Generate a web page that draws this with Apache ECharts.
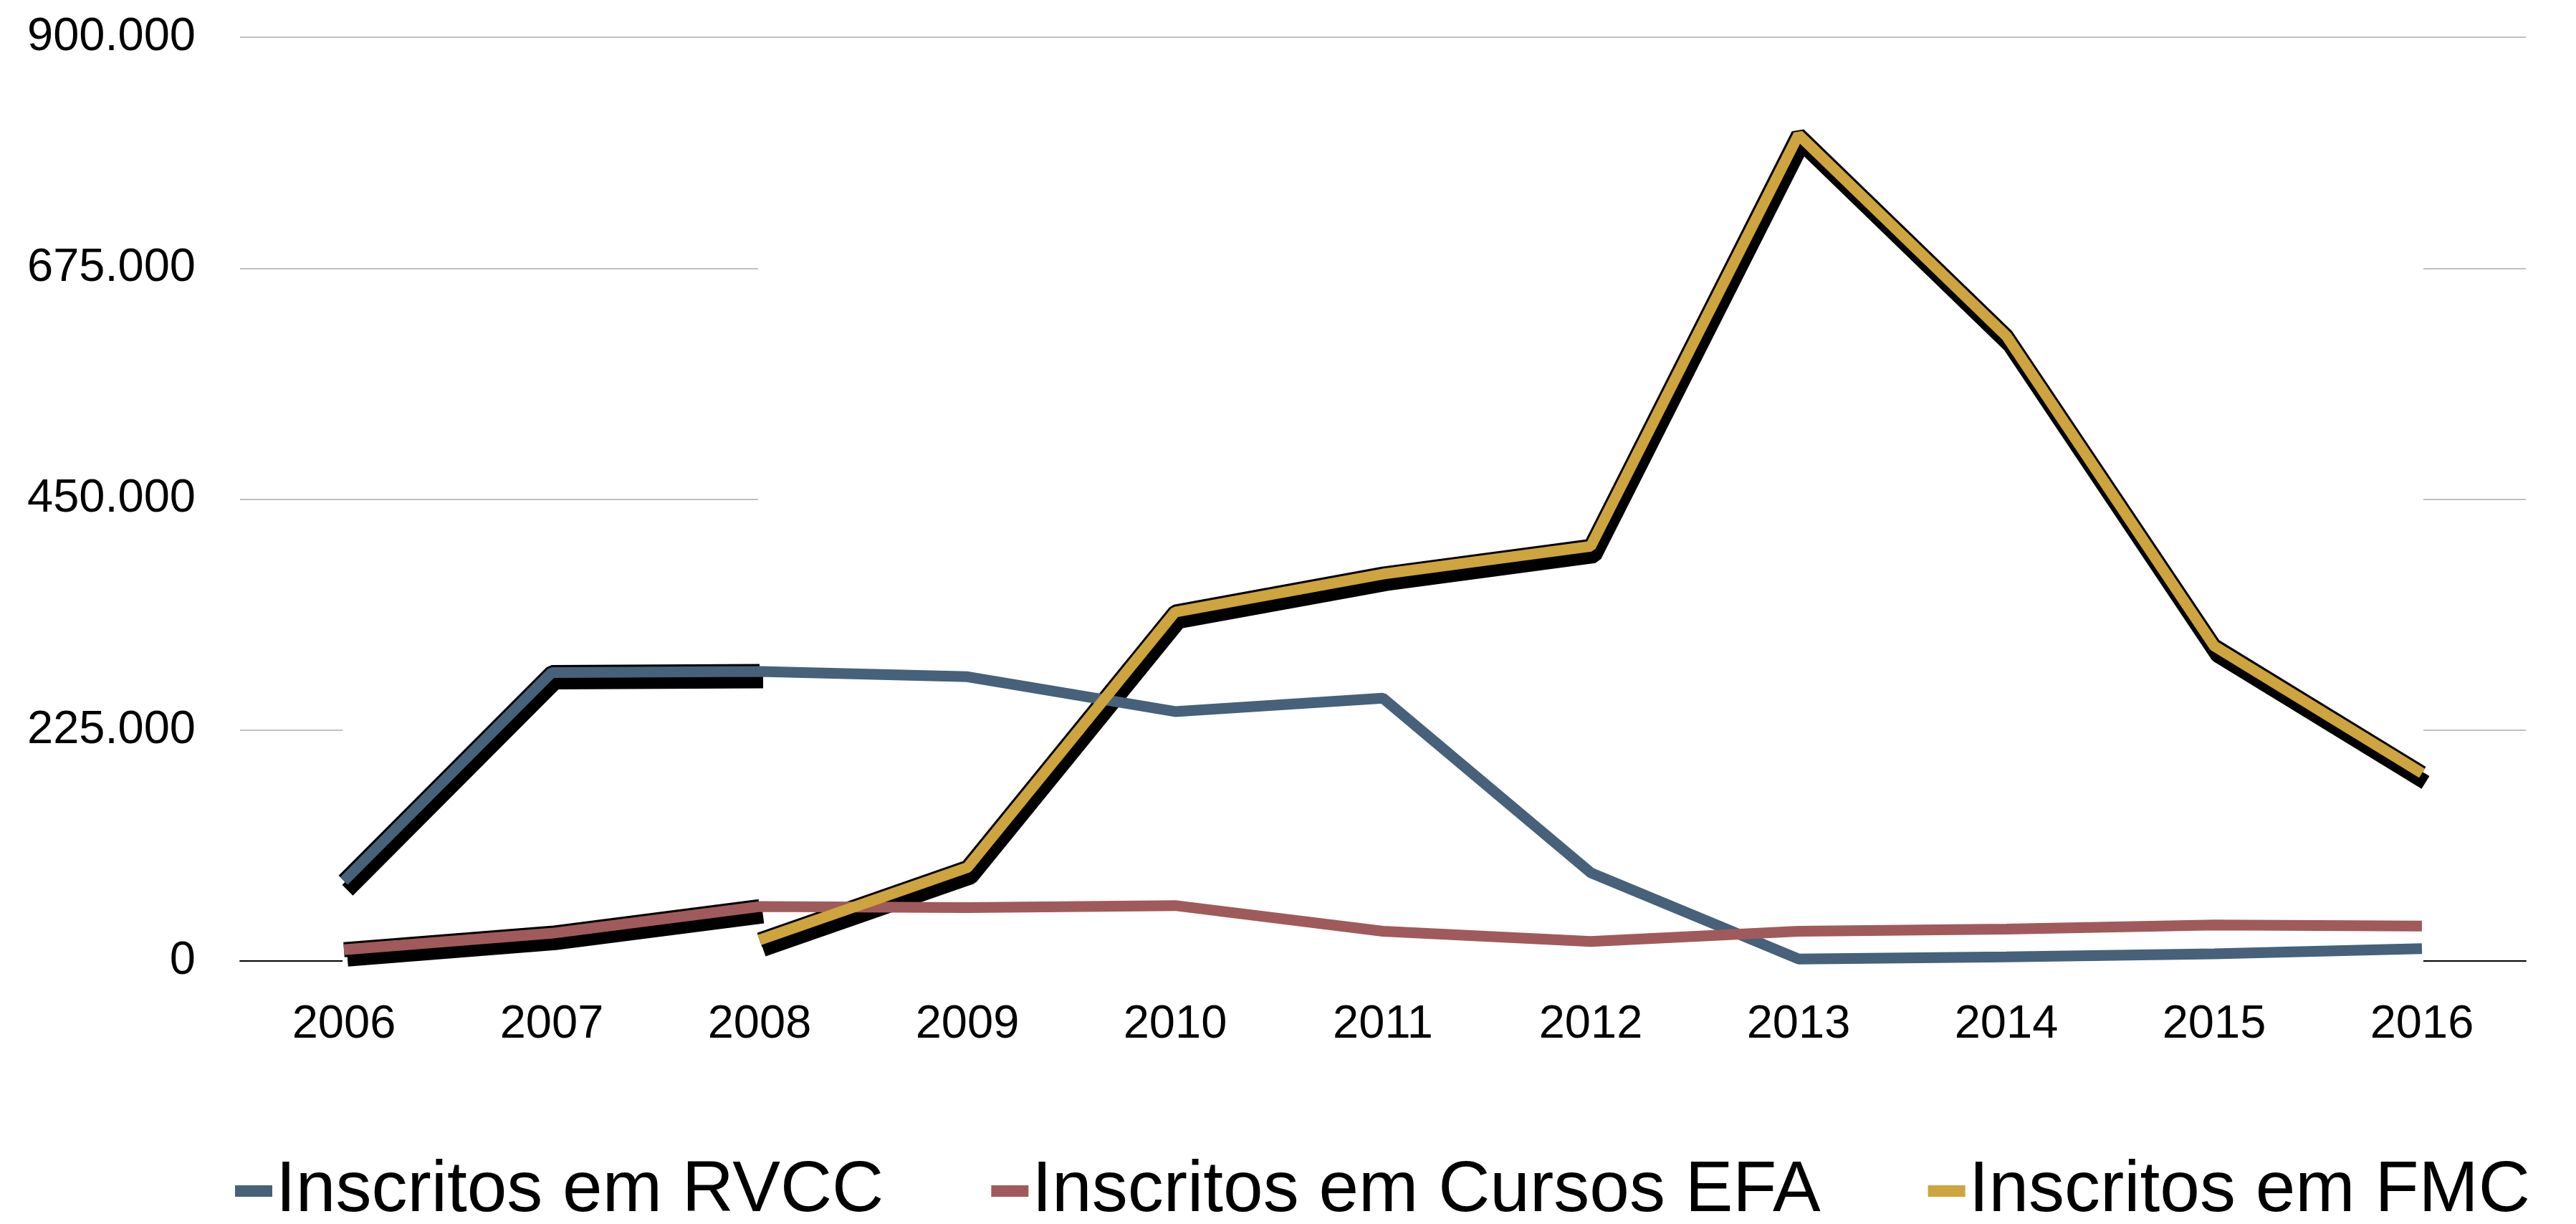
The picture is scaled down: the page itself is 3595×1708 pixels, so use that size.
<!DOCTYPE html>
<html>
<head>
<meta charset="utf-8">
<script src="https://cdn.jsdelivr.net/npm/echarts@6/dist/echarts.min.js"></script>
<style>html,body{margin:0;padding:0;background:#fff}#c{width:3595px;height:1708px}</style>
</head>
<body>
<div id="c"></div>
<script>
const years = ['2006','2007','2008','2009','2010','2011','2012','2013','2014','2015','2016'];
const rvcc = [78000, 281000, 282000, 277000, 243000, 256000, 86000, 2000, 4000, 7000, 12000];
const efa  = [11000, 27000, 53000, 52000, 54000, 29000, 19000, 29000, 31000, 35000, 34000];
const fmc  = [null, null, 20500, 91000, 340000, 377000, 404000, 805000, 609000, 307000, 183000];
const seriesNames = ['Inscritos em RVCC', 'Inscritos em Cursos EFA', 'Inscritos em FMC'];
const yTickValues = [0, 225000, 450000, 675000, 900000];

const colors = ['#466179', '#a05a5b', '#cda43e'];
const FONT = "'Liberation Sans', Arial, sans-serif";
const W = 15;

function fmt(v) { return String(v).replace(/\B(?=(\d{3})+(?!\d))/g, '.'); }
function firstPart(arr, upto) { return arr.map((v, i) => i <= upto ? v : null); }

const outline = (name, data) => ({
  name, type: 'line', data, showSymbol: false, silent: true, z: 2,
  lineStyle: { color: '#000', width: W + 6, shadowColor: '#000', shadowBlur: 0, shadowOffsetX: 5, shadowOffsetY: 13 },
  itemStyle: { color: '#000' }
});
const main = (name, data, color, extra) => Object.assign({
  name, type: 'line', data, showSymbol: false, z: 3,
  lineStyle: { color, width: W }, itemStyle: { color }
}, extra || {});

const chart = echarts.init(document.getElementById('c'));
chart.setOption({
  animation: false,
  backgroundColor: '#fff',
  grid: { left: 335, right: 70, top: 52, bottom: 367, containLabel: false },
  legend: {
    data: seriesNames, left: 328, top: 1612, padding: 0,
    icon: 'rect', itemWidth: 52, itemHeight: 16, itemGap: 150,
    textStyle: { fontSize: 100, fontFamily: FONT, color: '#000' }
  },
  xAxis: {
    type: 'category', data: years, boundaryGap: true,
    axisLine: { lineStyle: { color: '#000', width: 2 } },
    axisTick: { show: false },
    axisLabel: { fontSize: 65, fontFamily: FONT, color: '#000', margin: 57 }
  },
  yAxis: {
    type: 'value', min: 0, max: 900000, interval: 225000,
    axisLine: { show: false }, axisTick: { show: false },
    splitLine: { lineStyle: { color: '#bfbfbf', width: 2 } },
    axisLabel: { fontSize: 65, fontFamily: FONT, color: '#000', margin: 62,
      formatter: v => yTickValues.indexOf(v) >= 0 ? fmt(v) : '' }
  },
  series: [
    outline('RVCC contorno', firstPart(rvcc, 2)),
    outline('EFA contorno', firstPart(efa, 2)),
    main(seriesNames[0], rvcc, colors[0], {
      clip: false,
      markArea: {
        silent: true, z: 1,
        itemStyle: { color: '#fff', borderColor: '#fff', borderWidth: 4 },
        label: { show: false },
        data: [
          [{ xAxis: '2006', yAxis: 0 }, { xAxis: '2008', yAxis: 320000 }],
          [{ xAxis: '2008', yAxis: 0 }, { xAxis: '2016', yAxis: 830000 }]
        ]
      }
    }),
    main(seriesNames[1], efa, colors[1]),
    outline('FMC contorno', fmc),
    main(seriesNames[2], fmc, colors[2], { z: 4 })
  ]
});
</script>
</body>
</html>
